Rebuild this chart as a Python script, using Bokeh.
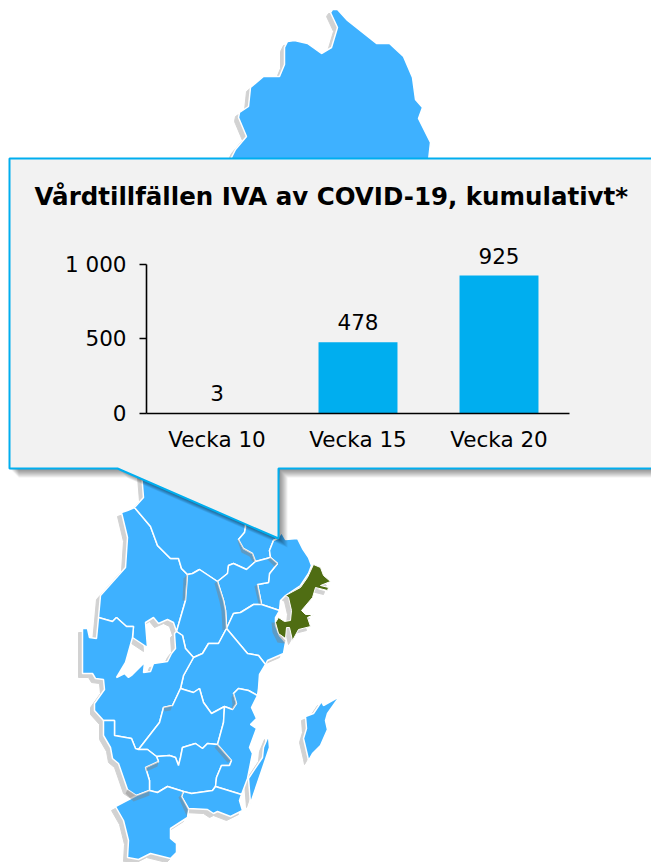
from bokeh.plotting import figure
from bokeh.models import ColumnDataSource, FactorRange, Range1d, FixedTicker
from bokeh.core.properties import value
from bokeh.embed import file_html
from bokeh.resources import INLINE

# ---- chart data ----
weeks = ["Vecka 10", "Vecka 15", "Vecka 20"]
cases = [3, 478, 925]
y_ticks = [0, 500, 1000]
y_labels = {0: "0", 500: "500", 1000: "1 000"}
chart_title = "Vårdtillfällen IVA av COVID-19, kumulativt*"

# ---- map outlines ----
norr = [(231,157),(235,149),(246,136),(238,117),(239,112),(248,106),(250,87),(263,76),(279,76),(284,64),(284,47),(287,41),(294,40),(307,43),(321,53),(331,47),(337,27),(330,12),(332,9),(337,9),(347,20),(376,43),(389,43),(403,56),(412,77),(415,99),(422,107),(418,118),(430,142),(428,160),(231,160)]
varmland = [(134,507),(127,510),(121,512),(127,537),(125,567),(100,595),(98,617),(112,621),(116,617),(126,626),(133,626),(132,637),(147,647),(145,622),(153,617),(158,623),(167,619),(173,622),(176,631),(185,600),(187,574),(181,568),(178,558),(170,558),(157,545),(150,526)]
orebro = [(187,574),(192,573),(199,569),(217,581),(223,600),(225,610),(226,628),(218,643),(208,643),(202,653),(193,657),(185,648),(182,635),(176,631),(185,600)]
dalarna = [(134,507),(150,526),(157,545),(170,558),(178,558),(181,568),(187,574),(192,573),(199,569),(217,581),(227,573),(228,565),(233,563),(246,569),(255,561),(252,553),(243,548),(238,539),(244,532),(245,527),(247,460),(140,460),(143,497)]
gavle = [(245,527),(244,532),(238,539),(243,548),(252,553),(255,561),(270,557),(269,550),(273,540),(277,538),(280,460),(247,460)]
uppsala = [(270,557),(269,550),(273,540),(277,538),(281,532),(285,539),(297,538),(302,548),(308,557),(311,565),(308,573),(300,585),(285,595),(280,600),(279,610),(261,604),(257,584),(268,582),(269,573),(277,563)]
vastmanland = [(217,581),(227,573),(228,565),(233,563),(246,569),(255,561),(270,557),(277,563),(269,573),(268,582),(257,584),(261,604),(253,604),(240,612),(233,613),(226,628),(225,610),(223,600)]
sormland = [(226,628),(233,613),(240,612),(253,604),(261,604),(279,610),(275,617),(275,625),(279,635),(285,642),(283,653),(267,660),(265,664),(258,655),(247,653)]
ostergotland = [(193,657),(202,653),(208,643),(218,643),(226,628),(247,653),(258,655),(265,664),(259,674),(258,688),(257,695),(248,690),(238,688),(233,693),(236,703),(232,709),(224,706),(211,713),(203,702),(199,688),(193,692),(180,688),(183,675)]
vastra_gotaland = [(82,628),(87,628),(89,637),(96,638),(98,617),(112,621),(116,617),(126,626),(133,626),(132,637),(125,662),(116,677),(124,673),(128,677),(131,675),(144,662),(143,672),(150,671),(153,663),(167,661),(171,653),(175,648),(174,633),(176,631),(182,635),(185,648),(193,657),(183,675),(180,688),(172,705),(163,707),(159,722),(138,749),(135,748),(131,738),(114,735),(114,720),(103,720),(94,710),(94,703),(104,689),(103,679),(95,678),(92,673),(82,673)]
jonkoping = [(138,749),(159,722),(163,707),(172,705),(180,688),(193,692),(199,688),(203,702),(211,713),(224,706),(223,722),(217,744),(207,743),(202,748),(195,743),(182,747),(180,757),(178,765),(175,757),(169,755),(156,756),(147,749)]
kronoberg = [(156,756),(169,755),(175,757),(178,765),(180,757),(182,747),(195,743),(202,748),(207,743),(217,744),(231,760),(229,765),(221,765),(216,777),(215,786),(212,790),(191,793),(183,791),(167,786),(157,792),(149,790),(149,780),(145,767),(158,761)]
kalmar = [(224,706),(232,709),(236,703),(233,693),(238,688),(248,690),(257,695),(251,707),(256,718),(250,724),(256,728),(249,747),(252,753),(247,778),(241,794),(215,786),(216,777),(221,765),(229,765),(231,760),(217,744),(223,722)]
oland = [(268,735),(269,747),(250,803),(248,778),(262,757),(263,747)]
gotland = [(339,696),(327,713),(325,720),(327,729),(320,745),(312,753),(308,760),(307,755),(303,738),(306,728),(305,716),(313,713),(321,701),(323,705)]
blekinge = [(183,791),(191,793),(212,790),(215,786),(241,794),(239,800),(242,810),(230,816),(217,811),(213,813),(207,809),(188,808),(181,796)]
halland = [(103,720),(114,720),(114,735),(131,738),(135,748),(138,749),(147,749),(156,756),(158,761),(145,767),(149,780),(149,790),(136,795),(127,789),(118,763),(112,758),(110,747),(103,735)]
skane = [(115,806),(136,795),(149,790),(157,792),(167,786),(183,791),(181,796),(188,809),(187,817),(170,828),(170,838),(176,843),(176,852),(170,858),(150,853),(138,859),(127,857),(128,840),(123,820)]
stockholm = [(313,564),(320,567),(323,575),(330,581),(320,585),(328,587),(327,590),(315,587),(312,597),(301,610),(305,614),(313,614),(307,617),(310,626),(298,629),(292,640),(289,627),(286,627),(285,638),(278,633),(275,622),(278,617),(284,621),(290,620),(291,610),(288,597),(285,595),(300,587),(307,577)]

counties = [norr, varmland, dalarna, gavle, uppsala, vastmanland, orebro, sormland, ostergotland,
            vastra_gotaland, jonkoping, kronoberg, kalmar, halland, blekinge, skane, oland, gotland]
highlight = [stockholm]

# darker seams where one county's shadow falls on its neighbour
seams = [[(243,548),(252,553),(255,561),(252,561),(249,556),(241,552),(237,540),(238,539)],
         [(270,557),(277,563),(274,566),(267,559)],
         [(217,581),(223,600),(225,610),(226,628),(222,630),(221,611),(219,601),(214,583)],
         [(187,574),(185,600),(182,600),(183,578)],
         [(257,584),(261,604),(258,603),(254,586)],
         [(275,622),(278,633),(285,640),(284,643),(277,642),(272,632),(271,622)],
         [(232,709),(236,703),(233,693),(231,697),(232,704),(231,708)],
         [(172,705),(163,707),(164,711),(170,710)],
         [(217,744),(231,760),(227,762),(214,747)],
         [(158,761),(145,767),(146,771),(157,766)],
         [(149,790),(136,795),(127,789),(125,793),(133,801),(149,795)],
         [(183,791),(181,796),(188,809),(186,815),(178,797)]]

callout = [(9,158),(670,158),(670,468),(278,468),(278,538),(117,468),(9,468)]

LAND = "#3EB1FF"
GREEN = "#4F6D13"
SHADOW = "#D2D2D2"
CYAN = "#00AEEF"
PANEL = "#F2F2F2"
FONT = "DejaVu Sans"

def xs(poly, dx=0): return [a + dx for a, b in poly]
def ys(poly, dy=0): return [b + dy for a, b in poly]

W, H = 651, 862
p = figure(width=W, height=H, x_range=Range1d(0, 651), y_range=Range1d(862, 0),
           output_backend="svg", toolbar_location=None, min_border=0,
           x_axis_type=None, y_axis_type=None, outline_line_color=None)
p.grid.visible = False

everything = counties + highlight
p.patches([xs(c, -4) for c in everything], [ys(c, 4) for c in everything],
          fill_color=SHADOW, line_color=SHADOW, line_width=1)
p.patches([xs(c) for c in counties], [ys(c) for c in counties],
          fill_color=LAND, line_color="white", line_width=1.5)
p.patches([xs(c) for c in seams], [ys(c) for c in seams],
          fill_color="#808080", fill_alpha=0.45, line_color=None)
p.patches([xs(c) for c in highlight], [ys(c) for c in highlight],
          fill_color=GREEN, line_color="white", line_width=1)

for k in range(1, 10):
    p.patch(xs(callout, k), ys(callout, k), fill_color="#000000", fill_alpha=0.06, line_color=None)
p.patch(xs(callout), ys(callout), fill_color=PANEL, line_color=CYAN, line_width=2)
p.text([34], [196], text=[chart_title], text_font=value(FONT), text_font_style="bold",
       text_font_size="24.5px", text_color="#000000", text_baseline="middle", text_align="left")

# inner bar chart, laid over the panel
c = figure(width=620, height=290, x_range=FactorRange(*weeks, factor_padding=0, range_padding=0),
           y_range=Range1d(0, 1200), output_backend="svg", toolbar_location=None,
           min_border_left=126, min_border_right=71, min_border_top=64, min_border_bottom=47,
           background_fill_color=None, border_fill_color=None, outline_line_color=None)
c.grid.visible = False
src = ColumnDataSource(dict(week=weeks, n=cases, lab=[str(v) for v in cases]))
c.vbar(x="week", top="n", width=0.56, source=src, fill_color=CYAN, line_color=None)
c.text(x="week", y="n", text="lab", source=src, text_font=value(FONT), text_font_size="21.5px",
       text_color="#000000", text_align="center", text_baseline="alphabetic", y_offset=-20)
c.yaxis.ticker = FixedTicker(ticks=y_ticks)
c.yaxis.major_label_overrides = y_labels
c.yaxis.bounds = (0, 1000)
c.yaxis.major_tick_in = 0
c.yaxis.major_tick_out = 7
c.yaxis.minor_tick_line_color = None
c.yaxis.major_label_standoff = 13
c.xaxis.major_tick_line_color = None
c.xaxis.minor_tick_line_color = None
c.xaxis.major_label_standoff = 7
for ax in (c.xaxis, c.yaxis):
    ax.axis_line_color = "#000000"
    ax.axis_line_width = 1.6
    ax.major_tick_line_width = 1.6
    ax.major_label_text_font = FONT
    ax.major_label_text_font_size = "21.5px"
    ax.major_label_text_color = "#000000"
c.xaxis.major_tick_line_color = None
c.margin = (-692, 0, 0, 20)

open("out.html", "w").write(file_html([p, c], INLINE))
